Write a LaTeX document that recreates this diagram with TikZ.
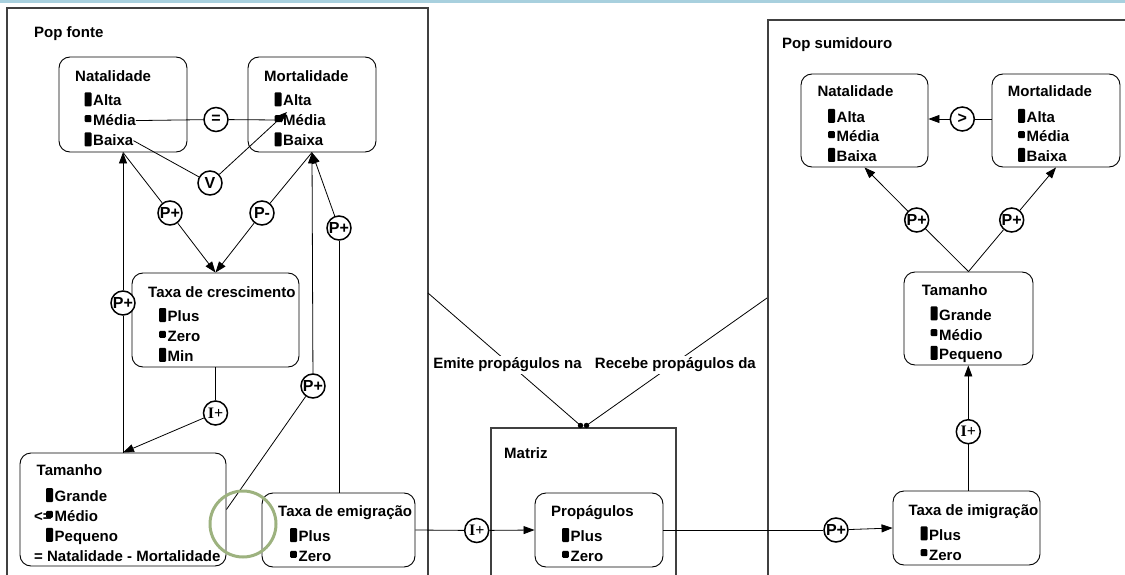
\documentclass[tikz,border=0pt]{standalone}
\usepackage{fontspec}
\setmainfont{Liberation Sans}
\newfontfamily\serifI{Liberation Serif}
\usetikzlibrary{arrows.meta,calc}
\definecolor{bandc}{RGB}{168,208,222}
\definecolor{ringc}{RGB}{157,178,127}
\definecolor{contc}{RGB}{64,64,64}
\tikzset{
 qbox/.style={draw, rounded corners=11pt, line width=0.9pt, inner sep=0pt, rectangle},
 ttl/.style={anchor=base west, inner sep=0pt, font=\bfseries\fontsize{15}{18}\selectfont},
 lbl/.style={inner sep=2pt, fill=white, font=\bfseries\fontsize{15}{18}\selectfont},
 qc/.style={circle, draw, line width=1.5pt, fill=white, minimum size=24pt, inner sep=0pt, font=\bfseries\fontsize{16}{16}\selectfont},
 conn/.style={line width=0.8pt},
 arr/.style={conn, -{Triangle[length=11pt,width=8pt]}},
 cont/.style={draw=contc, line width=1.4pt},
 dotc/.style={circle, fill, inner sep=0pt, minimum size=5.5pt},
}
\newcommand\mkbar[2]{\fill[rounded corners=1pt] (#1-0.5,#2+0.3) rectangle ++(7,-14);}
\newcommand\mkdot[2]{\fill[rounded corners=1pt] (#1-0.3,#2-3.8) rectangle ++(6.6,-7);}
\newcommand\qib[4]{\mkbar{#2}{#3}\node[ttl] (#1) at (#2+8,#3) {#4};}
\newcommand\qid[4]{\mkdot{#2}{#3}\node[ttl] (#1) at (#2+8,#3) {#4};}
\begin{document}
\begin{tikzpicture}[x=1pt,y=-1pt]
\useasboundingbox (0,0) rectangle (1125,575);
\fill[bandc] (0,0) rectangle (1125,3.3);
% containers
\draw[cont] (7,575) -- (7,8) -- (428,8) -- (428,575);
\node[ttl] (popF) at (34,38) {Pop fonte};
\draw[cont] (768,575) -- (768,20) -- (1127,20);
\node[ttl] (popS) at (782,49) {Pop sumidouro};
\draw[cont] (491,575) -- (491,428) -- (676,428) -- (676,575);
\node[ttl] (matr) at (504,458) {Matriz};
% ---- Pop fonte boxes
\node[qbox, minimum width=128pt, minimum height=95pt] (natF) at (123,104.5) {};
\node[ttl] (natFt) at (75,82) {Natalidade};
\qib{natF1}{85}{106}{Alta}
\qid{natF2}{85}{126}{Média}
\qib{natF3}{85}{146}{Baixa}
\node[qbox, minimum width=128pt, minimum height=95pt] (morF) at (312,104.5) {};
\node[ttl] (morFt) at (264,82) {Mortalidade};
\qib{morF1}{275}{106}{Alta}
\qid{morF2}{275}{126}{Média}
\qib{morF3}{275}{146}{Baixa}
\coordinate (morFm) at (277,120);
\coordinate (morFv) at (287,112);
\node[qbox, minimum width=167pt, minimum height=94pt] (taxC) at (215.5,320) {};
\node[ttl] (taxCt) at (148,297) {Taxa de crescimento};
\qib{taxC1}{159.5}{321.7}{Plus}
\qid{taxC2}{159.5}{341.7}{Zero}
\qib{taxC3}{159.5}{361.5}{Min}
\node[qbox, minimum width=206pt, minimum height=113pt] (tamF) at (123,509.5) {};
\node[ttl] (tamFt) at (36.5,475.7) {Tamanho};
\qib{tamF1}{46.5}{501.7}{Grande}
\node[ttl] (tamFle) at (34,521.7) {<=};
\qid{tamF2}{46.5}{521.7}{Médio}
\qib{tamF3}{46.5}{541.5}{Pequeno}
\node[ttl] (tamFeq) at (34,561.7) {= Natalidade - Mortalidade};
\node[qbox, minimum width=153pt, minimum height=74pt] (taxE) at (338.5,530) {};
\node[ttl] (taxEt) at (278,516.7) {Taxa de emigração};
\qib{taxE1}{290.5}{541.7}{Plus}
\qid{taxE2}{290.5}{561.7}{Zero}
% ---- Matriz
\node[qbox, minimum width=128pt, minimum height=74pt] (prop) at (599,530) {};
\node[ttl] (propt) at (551,516.7) {Propágulos};
\qib{prop1}{562.5}{541.7}{Plus}
\qid{prop2}{562.5}{561.7}{Zero}
% ---- Pop sumidouro
\node[qbox, minimum width=127pt, minimum height=93pt] (natS) at (864.5,120.5) {};
\node[ttl] (natSt) at (817.3,97) {Natalidade};
\qib{natS1}{828.5}{122.5}{Alta}
\qid{natS2}{828.5}{142}{Média}
\qib{natS3}{828.5}{161.7}{Baixa}
\node[qbox, minimum width=128pt, minimum height=93pt] (morS) at (1056,120.5) {};
\node[ttl] (morSt) at (1007.7,97) {Mortalidade};
\qib{morS1}{1018.5}{122.5}{Alta}
\qid{morS2}{1018.5}{142}{Média}
\qib{morS3}{1018.5}{161.7}{Baixa}
\node[qbox, minimum width=129pt, minimum height=93pt] (tamS) at (968.5,318.5) {};
\node[ttl] (tamSt) at (921.7,295) {Tamanho};
\qib{tamS1}{931}{320}{Grande}
\qid{tamS2}{931}{340}{Médio}
\qib{tamS3}{931}{359.5}{Pequeno}
\node[qbox, minimum width=147pt, minimum height=74pt] (taxI) at (966.5,528) {};
\node[ttl] (taxIt) at (908.3,515) {Taxa de imigração};
\qib{taxI1}{921}{540}{Plus}
\qid{taxI2}{921}{560}{Zero}
% ---- circles
\node[qc] (cEq) at (216,119.5) {=};
\node[qc] (cV) at (210,183) {V};
\node[qc] (cPL) at (170,213) {P+};
\node[qc] (cPM) at (262,213) {P-};
\node[qc] (cPR) at (339,228) {P+};
\node[qc] (cPV) at (123,303) {P+};
\node[qc] (cPT) at (313,386) {P+};
\node[qc] (cIF) at (215.5,413) {\serifI I+};
\node[qc] (cIM) at (476.7,530.5) {\serifI I+};
\node[qc] (cPS) at (836,530) {P+};
\node[qc] (cIS) at (968.3,431.7) {\serifI I+};
\node[qc] (cGt) at (962.3,119) {>};
\node[qc] (cPS1) at (916.7,220) {P+};
\node[qc] (cPS2) at (1011.7,220) {P+};
% ---- connectors (fonte)
\draw[conn] (natF2.east) -- (cEq) -- (morFm);
\draw[conn] (natF3.east) -- (cV);
\draw[arr] (cV) -- (morFv);
\draw[conn] (natF.south) -- (cPL);
\draw[arr] (cPL) -- (taxC.north);
\draw[conn] (morF.south) -- (cPM);
\draw[arr] (cPM) -- (taxC.north);
\draw[conn] (taxE.north -| cPR) -- (cPR);
\draw[arr] (cPR) -- (morF.south);
\draw[conn] (tamF.north) -- (cPV);
\draw[arr] (cPV) -- (natF.south);
\draw[conn] (tamF.east) -- (cPT);
\draw[arr] (cPT) -- (morF.south);
\draw[conn] (taxC.south) -- (cIF);
\draw[arr] (cIF) -- (tamF.north);
\draw[conn] (taxE.east) -- (cIM);
\draw[arr] (cIM) -- (prop.west);
% ---- connectors (sumidouro)
\draw[conn] (prop.east) -- (cPS);
\draw[arr] (cPS) -- (taxI.west);
\draw[conn] (cIS |- taxI.north) -- (cIS);
\draw[arr] (cIS) -- (cIS |- tamS.south);
\draw[conn] (morS.west |- cGt) -- (cGt);
\draw[arr] (cGt) -- (natS.east |- cGt);
\draw[conn] (tamS.north) -- (cPS1);
\draw[arr] (cPS1) -- (natS.south);
\draw[conn] (tamS.north) -- (cPS2);
\draw[arr] (cPS2) -- (morS.south);
% ---- propagule links
\coordinate (popFr) at (428,293);
\coordinate (popSl) at (767,298);
\node[dotc] (d1) at (580.5,425.5) {};
\node[dotc] (d2) at (586.5,425.5) {};
\draw[conn] (popFr) -- (d1.center);
\draw[conn] (popSl) -- (d2.center);
\node[lbl] (lblE) at (507.5,365) {Emite propágulos na};
\node[lbl] (lblR) at (675.4,365) {Recebe propágulos da};
% ---- highlight ring
\draw[draw=ringc, line width=3pt] (243,524) circle (33);
\end{tikzpicture}
\end{document}
